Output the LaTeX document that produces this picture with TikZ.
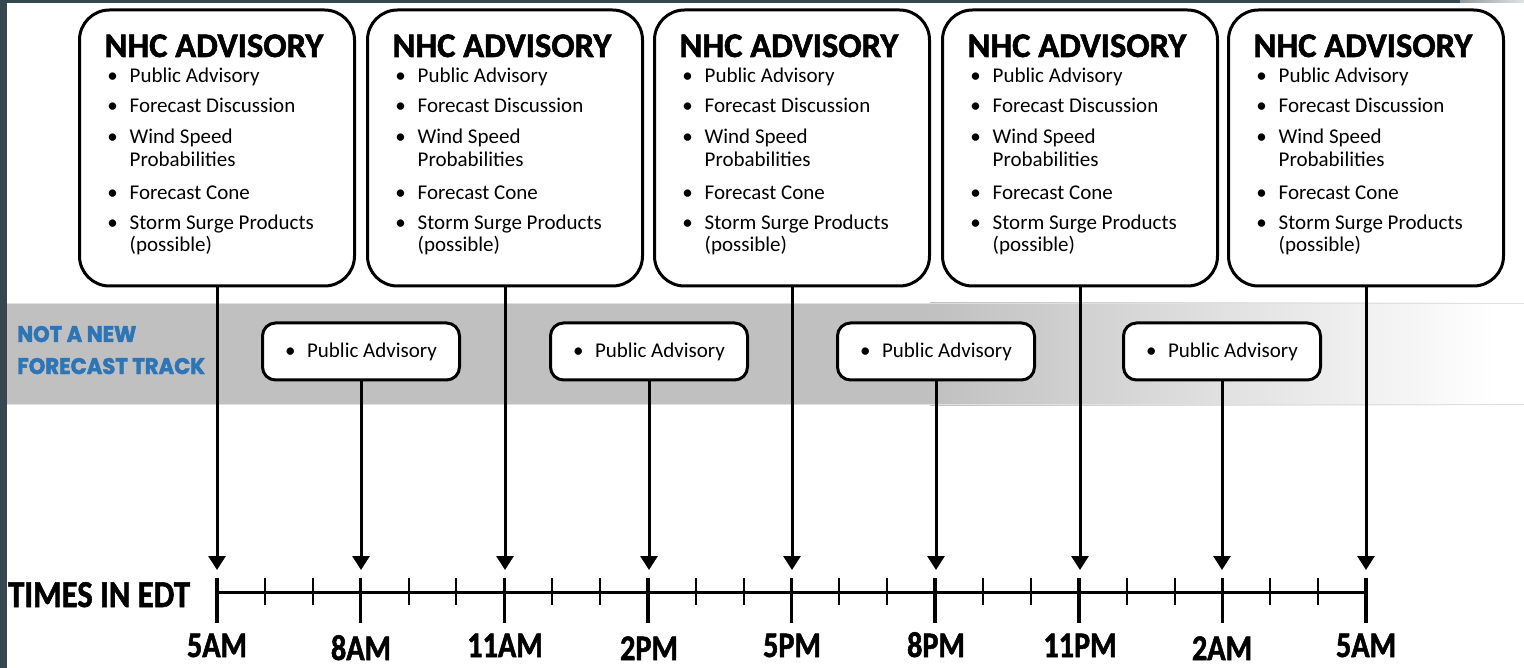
\documentclass[tikz,border=0pt]{standalone}
\usepackage{fontspec}
\setmainfont{Carlito}
\font\advtitlefont="Carlito/B:embolden=1.6" at 34.5pt
\font\advtimefont="Carlito/B:embolden=1.4;extend=0.84" at 36pt
\font\advzonefont="Carlito/B:embolden=1.4;extend=0.86" at 38pt
\font\advtrackfont="Poppins/B:embolden=2;extend=0.94" at 22.5pt
\usetikzlibrary{arrows.meta}
\definecolor{framecol}{RGB}{55,71,79}
\definecolor{bandcol}{RGB}{192,192,192}
\definecolor{trackblue}{RGB}{46,117,182}
\tikzset{
  bigbox/.style={draw, fill=white, line width=3pt, rounded corners=30pt, minimum width=275pt, minimum height=276pt, inner sep=0pt},
  smallbox/.style={draw, fill=white, line width=3pt, rounded corners=13pt, minimum width=197pt, minimum height=57pt, inner sep=0pt, font=\fontsize{21}{24}\selectfont},
  titletext/.style={anchor=base west, inner sep=0pt, font=\advtitlefont},
  itemtext/.style={anchor=base west, inner sep=0pt, font=\fontsize{21}{24}\selectfont},
  bullettext/.style={anchor=base, inner sep=0pt, font=\fontsize{21}{24}\selectfont},
  conn/.style={line width=3pt, -{Triangle[width=17pt,length=14pt]}},
  majortick/.style={line width=3.5pt},
  minortick/.style={line width=2pt},
  timelabel/.style={anchor=base, inner sep=0pt, font=\advtimefont},
  tracktext/.style={anchor=base west, inner sep=0pt, text=trackblue, font=\advtrackfont},
}
\newcommand{\advbox}[2]{%
  \pgfmathsetmacro{\boxL}{#2-137.5}
  \node[bigbox] (#1) at (#2,148) {};
  \node[titletext] (#1-title) at (\boxL+25,57) {NHC ADVISORY};
  \foreach \yy [count=\k] in {83,113,144,200,230}
    \node[bullettext] (#1-b\k) at (\boxL+33,\yy) {•};
  \foreach \txt/\yy [count=\k] in {Public Advisory/83, Forecast Discussion/113, Wind Speed/144, Probabilities/167, Forecast Cone/200, Storm Surge Products/230, {(possible)}/252}
    \node[itemtext] (#1-i\k) at (\boxL+50,\yy) {\txt};
}
\begin{document}
\begin{tikzpicture}[x=1pt,y=-1pt]
\useasboundingbox (0,0) rectangle (1524,668);
\fill[white] (0,0) rectangle (1524,668);
% frame
\fill[framecol] (0,0) rectangle (7,668);
\fill[framecol] (0,0) rectangle (1460,3);
\shade[left color=framecol!55!white, right color=framecol!15!white] (1460,0) rectangle (1524,3);
% band
\fill[bandcol] (7,303) rectangle (930,405);
\shade[left color=bandcol, right color=white] (930,303) rectangle (1495,405);
\fill[white] (1495,303) rectangle (1524,405);
\draw[black!12, line width=1pt] (7,303.5) -- (1524,303.5);
\draw[black!12, line width=1pt] (7,404.5) -- (1524,404.5);
\node[tracktext] (track1) at (17,342) {NOT A NEW};
\node[tracktext] (track2) at (17,374) {FORECAST TRACK};
% big boxes
\advbox{A1}{217}
\advbox{A2}{505}
\advbox{A3}{792}
\advbox{A4}{1080}
\advbox{A5}{1366}
% small boxes
\foreach \xx [count=\k] in {361,649,936,1222}
  \node[smallbox] (S\k) at (\xx,351.5) {\makebox[22pt][l]{•}Public Advisory\hspace{10pt}};
% arrow tip coordinates
\foreach \xx [count=\k] in {217,505,792,1080,1366}
  \coordinate (P\k) at (\xx,570);
\foreach \xx [count=\k] in {361,649,936,1222}
  \coordinate (Q\k) at (\xx,570);
\foreach \k in {1,...,5}
  \draw[conn] (A\k.south) -- (P\k);
\foreach \k in {1,...,4}
  \draw[conn] (S\k.south) -- (Q\k);
% timeline
\coordinate (T0) at (217,592);
\coordinate (T1) at (1366,592);
\draw[line width=3pt] (T0) -- (T1);
\foreach \k in {0,...,8}
  \draw[majortick] (217+143.625*\k,578) -- (217+143.625*\k,623);
\foreach \k in {0,...,7}{
  \draw[minortick] (217+143.625*\k+47.875,578) -- (217+143.625*\k+47.875,605);
  \draw[minortick] (217+143.625*\k+95.75,578) -- (217+143.625*\k+95.75,605);
}
\node[anchor=base west, inner sep=0pt, font=\advzonefont] (tz) at (8,607) {TIMES IN EDT};
\foreach \lab/\xx/\yy [count=\k] in {5AM/217/657, 8AM/361/660, 11AM/505/657, 2PM/649/660, 5PM/792/657, 8PM/936/657, 11PM/1080/657, 2AM/1222/660, 5AM/1366/657}
  \node[timelabel] (L\k) at (\xx,\yy) {\lab};
\end{tikzpicture}
\end{document}
